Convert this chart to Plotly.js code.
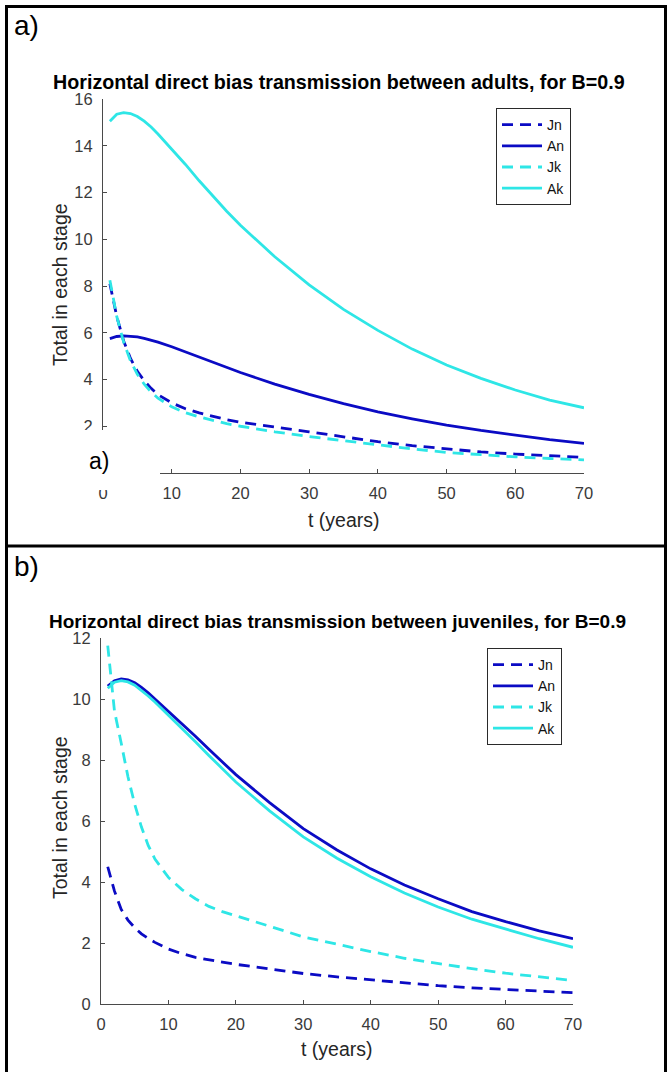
<!DOCTYPE html>
<html>
<head>
<meta charset="utf-8">
<script src="https://cdn.plot.ly/plotly-3.0.1.min.js"></script>
<style>
  html, body { margin: 0; padding: 0; background: #ffffff; }
  #fig { width: 667px; height: 1072px; }
</style>
</head>
<body>
<div id="fig"></div>
<script>
// ---- panel a: transmission between adults ----
const tAdults  = [1, 2, 3, 4, 5, 6, 7, 8, 10, 12, 14, 16, 18, 20, 25, 30, 35, 40, 45, 50, 55, 60, 65, 70];
const JnAdults = [8.1, 6.7, 5.65, 4.9, 4.35, 3.95, 3.62, 3.35, 3.0, 2.75, 2.57, 2.42, 2.28, 2.17, 1.95, 1.76, 1.55, 1.34, 1.17, 1.02, 0.9, 0.81, 0.74, 0.67];
const AnAdults = [5.75, 5.84, 5.87, 5.86, 5.82, 5.76, 5.68, 5.6, 5.4, 5.18, 4.97, 4.75, 4.52, 4.3, 3.8, 3.36, 2.97, 2.62, 2.32, 2.05, 1.82, 1.62, 1.43, 1.27];
const JkAdults = [8.25, 6.7, 5.6, 4.8, 4.22, 3.8, 3.47, 3.2, 2.83, 2.58, 2.4, 2.24, 2.11, 2.0, 1.76, 1.56, 1.38, 1.2, 1.03, 0.88, 0.78, 0.69, 0.62, 0.56];
const AkAdults = [15.05, 15.35, 15.42, 15.38, 15.25, 15.05, 14.8, 14.5, 13.85, 13.2, 12.5, 11.85, 11.2, 10.6, 9.25, 8.05, 7.0, 6.1, 5.3, 4.62, 4.05, 3.55, 3.12, 2.79];

// ---- panel b: transmission between juveniles ----
const tJuv  = [1, 2, 3, 4, 5, 6, 7, 8, 10, 12, 14, 16, 18, 20, 25, 30, 35, 40, 45, 50, 55, 60, 65, 70];
const JnJuv = [4.5, 3.7, 3.1, 2.75, 2.5, 2.3, 2.15, 2.02, 1.8, 1.65, 1.53, 1.44, 1.37, 1.3, 1.15, 1.0, 0.89, 0.79, 0.69, 0.6, 0.53, 0.47, 0.42, 0.37];
const AnJuv = [10.42, 10.6, 10.66, 10.63, 10.53, 10.38, 10.2, 10.0, 9.6, 9.2, 8.78, 8.35, 7.93, 7.52, 6.6, 5.75, 5.05, 4.43, 3.9, 3.45, 3.03, 2.7, 2.4, 2.14];
const JkJuv = [11.75, 9.6, 8.55, 7.45, 6.55, 5.8, 5.2, 4.75, 4.15, 3.75, 3.45, 3.2, 3.03, 2.9, 2.55, 2.2, 1.95, 1.72, 1.5, 1.32, 1.16, 1.01, 0.88, 0.77];
const AkJuv = [10.35, 10.55, 10.6, 10.56, 10.45, 10.29, 10.1, 9.9, 9.47, 9.05, 8.6, 8.15, 7.7, 7.28, 6.33, 5.48, 4.78, 4.17, 3.64, 3.18, 2.78, 2.45, 2.14, 1.86];

const seriesNames = ['Jn', 'An', 'Jk', 'Ak'];
const xTicks = [0, 10, 20, 30, 40, 50, 60, 70];
const xTickText = ['0', '10', '20', '30', '40', '50', '60', '70'];
const yTicksAdults = [0, 2, 4, 6, 8, 10, 12, 14, 16];
const yTickTextAdults = ['', '2', '4', '6', '8', '10', '12', '14', '16'];
const yTicksJuv = [0, 2, 4, 6, 8, 10, 12];
const yTickTextJuv = ['0', '2', '4', '6', '8', '10', '12'];

const titleAdults = 'Horizontal direct bias transmission between adults, for B=0.9';
const titleJuv = 'Horizontal direct bias transmission between juveniles, for B=0.9';
const xLabel = 't (years)';
const yLabel = 'Total in each stage';

// ---- styling ----
const W = 667, H = 1072;
const BLUE = '#0b0bc4';
const CYAN = '#2ee6e6';
const FONT = 'Liberation Sans, Arial, sans-serif';
const AXIS = '#4a4a4a';
const TICKTXT = '#3a3a3a';
const DASH = '11px,7px';
const LW = 2.8;

const styles = [
  { color: BLUE, dash: DASH },
  { color: BLUE, dash: 'solid' },
  { color: CYAN, dash: DASH },
  { color: CYAN, dash: 'solid' }
];

// pixel helpers -> paper coordinates
const px = v => v / W;
const py = v => 1 - v / H;

function makeTraces(t, ys, xa, ya, legendId) {
  return ys.map((y, i) => ({
    type: 'scatter', mode: 'lines',
    x: t, y: y,
    name: seriesNames[i],
    xaxis: xa, yaxis: ya,
    legend: legendId,
    line: { color: styles[i].color, dash: styles[i].dash, width: LW }
  }));
}

const data = [
  ...makeTraces(tAdults, [JnAdults, AnAdults, JkAdults, AkAdults], 'x', 'y', 'legend'),
  ...makeTraces(tJuv, [JnJuv, AnJuv, JkJuv, AkJuv], 'x2', 'y2', 'legend2')
];

function axisBase(ticks, labels) {
  return {
    range: [ticks[0], ticks[ticks.length - 1]],
    tickvals: ticks,
    ticktext: labels,
    showgrid: false, zeroline: false,
    showline: true, linecolor: AXIS, linewidth: 1,
    ticks: 'inside', ticklen: 4, tickcolor: AXIS, tickwidth: 1,
    tickfont: { family: FONT, size: 16.5, color: TICKTXT },
    fixedrange: true
  };
}

const legendBase = {
  xanchor: 'left', yanchor: 'top',
  bgcolor: '#ffffff', bordercolor: '#2a2a2a', borderwidth: 1,
  font: { family: FONT, size: 14, color: '#111111' },
  itemwidth: 40, tracegroupgap: 0
};

const layout = {
  width: W, height: H,
  margin: { l: 0, r: 0, t: 0, b: 0 },
  paper_bgcolor: '#ffffff', plot_bgcolor: '#ffffff',
  showlegend: true,
  xaxis:  Object.assign(axisBase(xTicks, xTickText), { domain: [px(103), px(584)], anchor: 'y', ticklabelstandoff: 5 }),
  yaxis:  Object.assign(axisBase(yTicksAdults, yTickTextAdults), { domain: [py(473), py(99)], anchor: 'x', ticklabelstandoff: 6 }),
  xaxis2: Object.assign(axisBase(xTicks, xTickText), { domain: [px(101), px(573)], anchor: 'y2', ticklabelstandoff: 5 }),
  yaxis2: Object.assign(axisBase(yTicksJuv, yTickTextJuv), { domain: [py(1004), py(638)], anchor: 'x2', ticklabelstandoff: 6 }),
  legend:  Object.assign({}, legendBase, { x: px(496), y: py(108) }),
  legend2: Object.assign({}, legendBase, { x: px(487), y: py(648) }),
  shapes: [
    // cell borders
    { type: 'line', xref: 'paper', yref: 'paper', x0: px(6.5), x1: px(6.5), y0: py(5), y1: 0, line: { color: '#000', width: 3 } },
    { type: 'line', xref: 'paper', yref: 'paper', x0: px(5), x1: px(667), y0: py(6.5), y1: py(6.5), line: { color: '#000', width: 3 } },
    { type: 'line', xref: 'paper', yref: 'paper', x0: px(665.5), x1: px(665.5), y0: py(5), y1: 0, line: { color: '#000', width: 3 } },
    { type: 'line', xref: 'paper', yref: 'paper', x0: px(5), x1: px(667), y0: py(546), y1: py(546), line: { color: '#000', width: 3 } },
    // pasted panel label box over the lower-left corner of panel a
    { type: 'rect', xref: 'paper', yref: 'paper', layer: 'above', x0: px(40), x1: px(160), y0: py(490), y1: py(430), fillcolor: '#ffffff', line: { width: 0 } }
  ],
  annotations: [
    { text: 'a)', xref: 'paper', yref: 'paper', x: px(27), y: py(26), xanchor: 'center', yanchor: 'middle', showarrow: false, font: { family: FONT, size: 28, color: '#000' } },
    { text: 'b)', xref: 'paper', yref: 'paper', x: px(27), y: py(566), xanchor: 'center', yanchor: 'middle', showarrow: false, font: { family: FONT, size: 28, color: '#000' } },
    { text: 'a)', xref: 'paper', yref: 'paper', x: px(99), y: py(461), xanchor: 'center', yanchor: 'middle', showarrow: false, font: { family: FONT, size: 23, color: '#000' } },
    { text: '<b>' + titleAdults + '</b>', xref: 'paper', yref: 'paper', x: px(339), y: py(82), xanchor: 'center', yanchor: 'middle', showarrow: false, font: { family: FONT, size: 19.7, color: '#000' } },
    { text: '<b>' + titleJuv + '</b>', xref: 'paper', yref: 'paper', x: px(337), y: py(621), xanchor: 'center', yanchor: 'middle', showarrow: false, font: { family: FONT, size: 19, color: '#000' } },
    { text: yLabel, xref: 'paper', yref: 'paper', x: px(60), y: py(285), xanchor: 'center', yanchor: 'middle', textangle: -90, showarrow: false, font: { family: FONT, size: 19.5, color: '#262626' } },
    { text: yLabel, xref: 'paper', yref: 'paper', x: px(60), y: py(818), xanchor: 'center', yanchor: 'middle', textangle: -90, showarrow: false, font: { family: FONT, size: 19.5, color: '#262626' } },
    { text: xLabel, xref: 'paper', yref: 'paper', x: px(344), y: py(520), xanchor: 'center', yanchor: 'middle', showarrow: false, font: { family: FONT, size: 19.5, color: '#262626' } },
    { text: xLabel, xref: 'paper', yref: 'paper', x: px(337), y: py(1049), xanchor: 'center', yanchor: 'middle', showarrow: false, font: { family: FONT, size: 19.5, color: '#262626' } }
  ]
};

Plotly.newPlot('fig', data, layout, { displayModeBar: false, staticPlot: true });
</script>
</body>
</html>
